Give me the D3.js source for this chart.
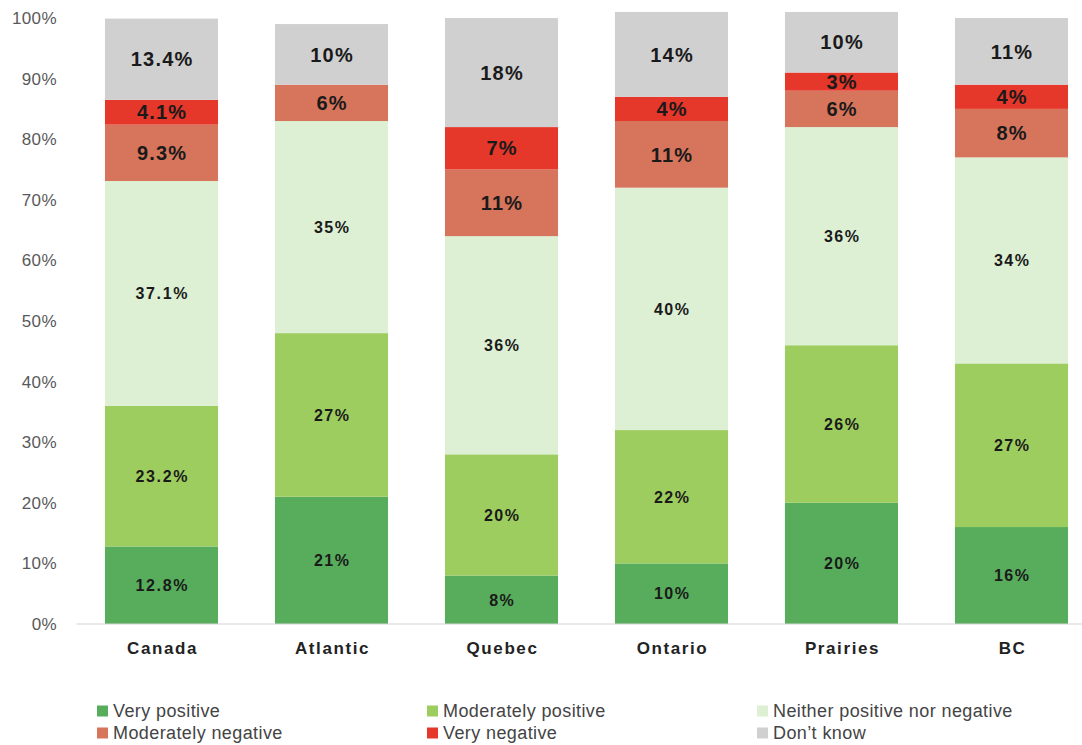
<!DOCTYPE html>
<html>
<head>
<meta charset="utf-8">
<script src="https://cdn.jsdelivr.net/npm/d3@7/dist/d3.min.js"></script>
<style>
  html, body { margin: 0; padding: 0; background: #fff; }
  svg { display: block; font-family: "Liberation Sans", Arial, sans-serif; }
</style>
</head>
<body>
<svg id="chart" width="1082" height="745"></svg>
<script>
// Regions shown along the x axis
const regions = ["Canada", "Atlantic", "Quebec", "Ontario", "Prairies", "BC"];

// Response categories, bottom to top of each stack
const seriesNames = [
  "Very positive",
  "Moderately positive",
  "Neither positive nor negative",
  "Moderately negative",
  "Very negative",
  "Don\u2019t know"
];

// Share of respondents (%) per region, one array per response
const veryPositive     = [12.8, 21, 8, 10, 20, 16];
const moderatelyPos    = [23.2, 27, 20, 22, 26, 27];
const neither          = [37.1, 35, 36, 40, 36, 34];
const moderatelyNeg    = [9.3, 6, 11, 11, 6, 8];
const veryNegative     = [4.1, 0, 7, 4, 3, 4];
const dontKnow         = [13.4, 10, 18, 14, 10, 11];

// Labels printed inside the segments (null = no label)
const veryPositiveLbl  = ["12.8%", "21%", "8%", "10%", "20%", "16%"];
const moderatelyPosLbl = ["23.2%", "27%", "20%", "22%", "26%", "27%"];
const neitherLbl       = ["37.1%", "35%", "36%", "40%", "36%", "34%"];
const moderatelyNegLbl = ["9.3%", "6%", "11%", "11%", "6%", "8%"];
const veryNegativeLbl  = ["4.1%", null, "7%", "4%", "3%", "4%"];
const dontKnowLbl      = ["13.4%", "10%", "18%", "14%", "10%", "11%"];

const yTicks = [0, 10, 20, 30, 40, 50, 60, 70, 80, 90, 100];

const colors = ["#57ad5c", "#9ecd5f", "#ddf0d4", "#d7745c", "#e5372a", "#d0d0d0"];
const seriesValues = [veryPositive, moderatelyPos, neither, moderatelyNeg, veryNegative, dontKnow];
const seriesLabels = [veryPositiveLbl, moderatelyPosLbl, neitherLbl, moderatelyNegLbl, veryNegativeLbl, dontKnowLbl];
const labelSizes = [16, 16, 16, 20, 20, 20];
const labelSpacing = [1.6, 1.6, 1.6, 1.2, 1.2, 1.2];

const rows = regions.map((r, i) => {
  const o = { region: r };
  seriesNames.forEach((s, k) => { o[s] = seriesValues[k][i]; });
  return o;
});

const svg = d3.select("#chart");
const margin = { left: 76.5, right: 1096.5, top: 18, bottom: 624 };

const x = d3.scaleBand().domain(regions).range([margin.left, margin.right]).paddingInner(0.335).paddingOuter(0.1675);
const y = d3.scaleLinear().domain([0, 100]).range([margin.bottom, margin.top]);

const stack = d3.stack().keys(seriesNames);
const layers = stack(rows);

// Stacked segments
const g = svg.append("g");
layers.forEach((layer, k) => {
  g.append("g")
    .selectAll("rect")
    .data(layer)
    .join("rect")
    .attr("x", d => x(d.data.region))
    .attr("width", x.bandwidth())
    .attr("y", d => y(d[1]))
    .attr("height", d => Math.max(0, y(d[0]) - y(d[1])))
    .attr("fill", colors[k]);
});

// Segment labels
layers.forEach((layer, k) => {
  g.append("g")
    .selectAll("text")
    .data(layer.map((d, i) => ({ d, lbl: seriesLabels[k][i] })).filter(o => o.lbl !== null))
    .join("text")
    .attr("x", o => x(o.d.data.region) + x.bandwidth() / 2 + labelSpacing[k] / 2)
    .attr("y", o => y((o.d[0] + o.d[1]) / 2))
    .attr("dy", "0.36em")
    .attr("text-anchor", "middle")
    .attr("font-size", labelSizes[k])
    .attr("letter-spacing", labelSpacing[k])
    .attr("font-weight", "bold")
    .attr("fill", "#1a1a1a")
    .text(o => o.lbl);
});

// Baseline
svg.append("line")
  .attr("x1", margin.left).attr("x2", margin.right)
  .attr("y1", y(0)).attr("y2", y(0))
  .attr("stroke", "#d4d4d4").attr("stroke-width", 1.2);

// Y axis labels
const yAxis = d3.axisLeft(y).tickValues(yTicks).tickFormat(d => d + "%").tickSize(0).tickPadding(0);
const ya = svg.append("g").attr("transform", "translate(57,0)").call(yAxis);
ya.select(".domain").remove();
ya.selectAll("text").attr("font-size", 17).attr("letter-spacing", 0.4).attr("fill", "#595959")
  .attr("font-family", "'Liberation Sans', Arial, sans-serif");

// X axis labels
const xAxis = d3.axisBottom(x).tickSize(0).tickPadding(0);
const xa = svg.append("g").attr("transform", "translate(1,642)").call(xAxis);
xa.select(".domain").remove();
xa.selectAll("text").attr("font-size", 17).attr("font-weight", "bold").attr("letter-spacing", 1.6)
  .attr("fill", "#222").attr("font-family", "'Liberation Sans', Arial, sans-serif");

// Legend: three columns, two rows
const legendCols = [97, 427, 757];
const legendRows = [711, 733];
const legend = svg.append("g");
seriesNames.forEach((s, k) => {
  const cx = legendCols[k % 3], cy = legendRows[Math.floor(k / 3)];
  legend.append("rect").attr("x", cx).attr("y", cy - 5.5).attr("width", 11).attr("height", 11).attr("fill", colors[k]);
  legend.append("text").attr("x", cx + 16).attr("y", cy).attr("dy", "0.36em")
    .attr("font-size", 18).attr("letter-spacing", 0.4).attr("fill", "#444").text(s);
});
</script>
</body>
</html>
